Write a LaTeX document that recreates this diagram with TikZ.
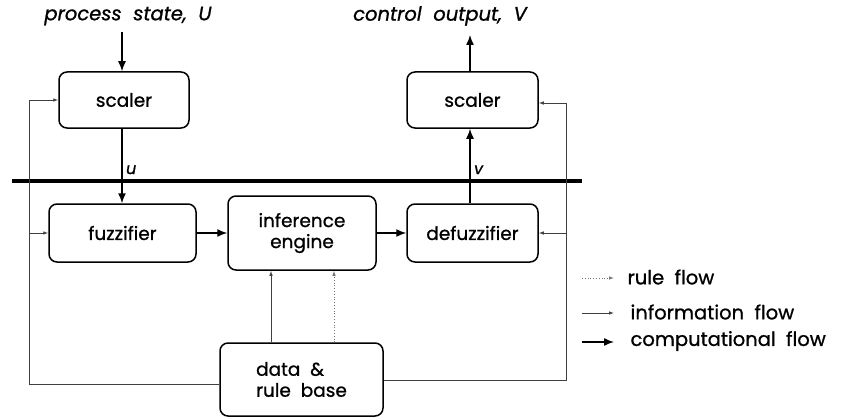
\documentclass[tikz,border=0pt]{standalone}
\usepackage{fontspec}
\setmainfont{Poppins}[UprightFeatures={FakeBold=0.9},ItalicFeatures={FakeBold=0.9}]
\usetikzlibrary{arrows.meta,calc}
\begin{document}
\begin{tikzpicture}[x=1pt,y=-1pt,
  box/.style={draw,line width=1.5pt,rounded corners=8pt,align=center,
    inner sep=0pt,font=\fontsize{18.5}{21}\selectfont},
  comp/.style={line width=1.4pt,-{Latex[length=10pt,width=8pt]}},
  info/.style={line width=0.8pt,draw=black!75,-{Latex[length=5pt,width=3.5pt]}},
  rule/.style={line width=0.8pt,draw=black!55,dotted,-{Latex[length=5pt,width=3.5pt]}},
  lbl/.style={font=\fontsize{19.5}{19.5}\selectfont\itshape},
  sml/.style={font=\fontsize{16}{16}\selectfont\itshape},
  leg/.style={anchor=west,font=\fontsize{19.5}{19.5}\selectfont}]
\useasboundingbox (0,0) rectangle (846,420);

% blocks
\node[box,minimum width=130pt,minimum height=56pt] (ls) at (124,100) {scaler};
\node[box,minimum width=131pt,minimum height=56pt] (rs) at (472.5,100) {scaler};
\node[box,minimum width=147pt,minimum height=58pt] (fz) at (122.5,233) {fuzzifier};
\node[box,minimum width=148pt,minimum height=74pt] (ie) at (302,233) {inference\\engine};
\node[box,align=left,minimum width=163pt,minimum height=73pt] (db) at (301.5,379.5) {data \ \&\\rule \ base};
\node[box,minimum width=131pt,minimum height=58pt] (dz) at (472.5,233) {defuzzifier};

% separating bar
\coordinate (barL) at (12,181);
\coordinate (barR) at (582,181);
\draw[line width=4pt] (barL) -- (barR);

% external signals
\node[lbl] (pin) at (128,16) {process \ state, \ U};
\node[lbl] (pout) at (440,16) {control \ output, \ V};
\coordinate (inA) at (122,32);
\coordinate (outA) at (470,35);
\draw[comp] (inA) -- (inA |- ls.north);
\draw[comp] (outA |- rs.north) -- (outA);

% computational path
\draw[comp] (ls.south -| inA) -- node[pos=0.55,right,sml]{u} (fz.north -| inA);
\draw[comp] (fz.east) -- (fz.east -| ie.west);
\draw[comp] (ie.east |- dz.west) -- (dz.west);
\draw[comp] (dz.north -| outA) -- node[pos=0.45,right,sml]{v} (rs.south -| outA);

% data & rule base feeds
\coordinate (upI) at (271,0);
\coordinate (upR) at (334,0);
\draw[info] (db.north -| upI) -- (ie.south -| upI);
\draw[rule] (db.north -| upR) -- (ie.south -| upR);

\coordinate (lft) at (29,384);
\coordinate (rgt) at (566,380);
\draw[info,-] (db.west |- lft) -- (lft) -- (lft |- 0,100);
\draw[info] (lft |- 0,100) -- (ls.west);
\draw[info] (lft |- fz.west) -- (fz.west);
\draw[info,-] (db.east |- rgt) -- (rgt) -- (rgt |- 0,103);
\draw[info] (rgt |- 0,103) -- (rs.east |- 0,103);
\draw[info] (rgt |- dz.east) -- (dz.east);

% legend
\coordinate (l1a) at (582,278); \coordinate (l1b) at (614,278);
\coordinate (l2a) at (582,313); \coordinate (l2b) at (614,313);
\coordinate (l3a) at (582,342); \coordinate (l3b) at (614,342);
\draw[rule] (l1a) -- (l1b);
\draw[info] (l2a) -- (l2b);
\draw[comp] (l3a) -- (l3b);
\node[leg] (t1) at (624,277) {rule \ flow};
\node[leg] (t2) at (627,312) {information \ flow};
\node[leg] (t3) at (627,341) {computational \ flow};
\end{tikzpicture}
\end{document}
